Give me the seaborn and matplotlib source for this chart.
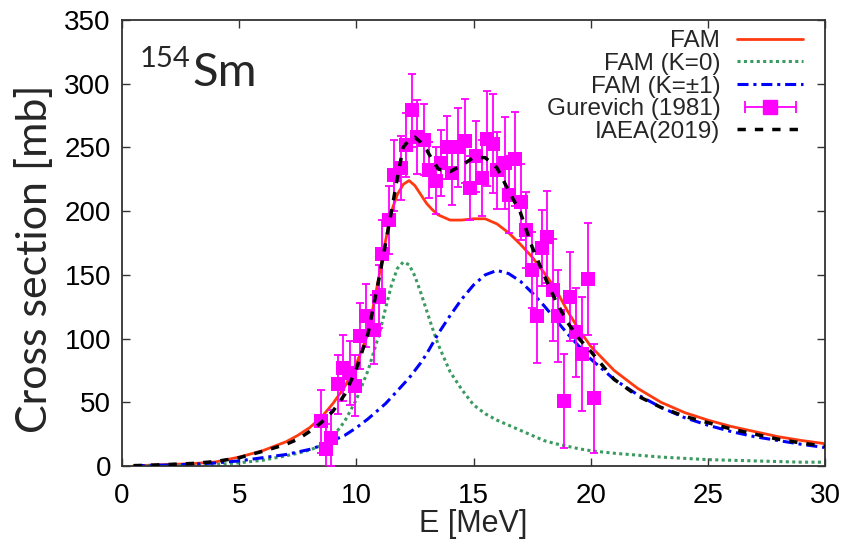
import matplotlib
matplotlib.use("Agg")
import matplotlib.pyplot as plt
import seaborn as sns
from matplotlib.lines import Line2D
from matplotlib.legend_handler import HandlerLine2D, HandlerTuple

# ---------------- data ----------------
energy_grid = [0.5, 1, 2, 3, 4, 5, 6, 7, 7.5, 8, 8.5, 9, 9.5, 10, 10.5, 11, 11.25, 11.5,
               11.75, 12, 12.25, 12.5, 12.75, 13, 13.25, 13.5, 14, 14.5, 15, 15.5, 16, 16.5, 17,
               17.5, 18, 18.5, 19, 19.5, 20, 21, 22, 23, 24, 25, 26, 27, 28, 29, 30]

fam_total = [0.3, 0.5, 1.2, 1.8, 3.2, 7, 12, 19, 24, 30, 38, 49, 62, 80, 104, 152, 177, 200,
             213, 221, 224, 220, 213, 206, 201, 197, 193, 193, 194, 194, 190, 183, 174,
             164, 152, 139, 122, 107, 94, 75, 61, 50, 42, 36, 31, 27, 23, 20, 17.5]

fam_k0 = [0.0, 0.1, 0.3, 0.6, 1.2, 2.5, 4.5, 8, 10, 12.5, 16, 23, 35, 52, 75, 105, 124, 142,
          155, 160, 158, 149, 136, 122, 108, 95, 74, 60, 48, 41, 36, 32, 28,
          24, 20, 17.5, 15.5, 13.5, 12, 10, 8.5, 7, 6, 5, 4.5, 4, 3.5, 3, 3]

fam_k1 = [0.2, 0.4, 0.8, 1.4, 2.4, 4, 6.5, 9, 11, 13, 16, 20, 24, 30, 37, 45, 49, 54,
          59, 64, 69, 75, 81, 88, 96, 104, 118, 131, 142, 150, 153.5, 151, 145,
          136, 126, 115, 104, 94, 84, 68, 56, 46, 38, 32, 27, 23, 20, 17, 14.5]

iaea_2019 = [0.3, 0.5, 1.2, 2, 3.5, 6.5, 11.5, 17, 21, 27, 34, 43, 56, 76, 104, 150, 175, 200,
             226, 250, 256, 258, 254, 248, 240, 233, 231, 236, 242, 242, 234, 216, 199,
             172, 150, 130, 113, 100, 90, 68, 55, 46, 39, 34, 29, 25, 21, 18, 15.5]

gurevich_e = [8.5, 8.7, 8.9, 9.2, 9.43, 9.72, 9.96, 10.17, 10.41, 10.74, 10.95, 11.1,
              11.41, 11.62, 11.92, 12.14, 12.38, 12.59, 12.9, 13.12, 13.38, 13.62,
              13.87, 14.09, 14.33, 14.63, 14.87, 15.09, 15.37, 15.58, 15.84, 16.01,
              16.34, 16.51, 16.77, 17.01, 17.26, 17.5, 17.69, 17.93, 18.15, 18.4,
              18.62, 18.86, 19.12, 19.36, 19.62, 19.9, 20.14]
gurevich_xs = [35, 13, 22, 64, 77, 73, 63, 102, 118, 107, 133, 166,
               193, 228, 234, 252, 279, 258, 256, 232, 224, 238,
               250, 230, 250, 255, 218, 243, 226, 257, 253, 232,
               238, 213, 241, 207, 185, 154, 118, 171, 180, 138,
               118, 51, 133, 105, 88, 147, 53]
gurevich_err = [25, 20, 22, 23, 26, 25, 24, 26, 25, 27, 25, 27,
                27, 28, 25, 25, 29, 29, 28, 22, 26, 26,
                25, 25, 31, 33, 25, 28, 30, 37, 39, 30,
                36, 30, 37, 30, 30, 30, 37, 30, 36, 40,
                36, 37, 35, 35, 45, 44, 43]

x_ticks = [0, 5, 10, 15, 20, 25, 30]
y_ticks = [0, 50, 100, 150, 200, 250, 300, 350]

legend_labels = ["FAM", "FAM (K=0)", "FAM (K=\u00b11)", "Gurevich (1981)", "IAEA(2019)"]

# ---------------- style ----------------
sns.set_theme(style="ticks")
plt.rcParams["font.family"] = ["Liberation Sans", "DejaVu Sans"]

RED = "#ff3a10"
GREEN = "#3a9a60"
BLUE = "#0000ff"
MAGENTA = "#ff00ff"

fig = plt.figure(figsize=(8.46, 5.48), dpi=100)
fig.patch.set_facecolor("white")
ax = fig.add_axes([122 / 846, 1 - 466 / 548, (825 - 122) / 846, (466 - 20) / 548])

sns.lineplot(x=energy_grid, y=fam_total, ax=ax, color=RED, lw=2.0, zorder=2)
sns.lineplot(x=energy_grid, y=fam_k0, ax=ax, color=GREEN, lw=2.2,
             linestyle=(0, (1, 1.1)), zorder=2)
sns.lineplot(x=energy_grid, y=fam_k1, ax=ax, color=BLUE, lw=2.2,
             linestyle=(0, (3.6, 1.6, 1, 1.6)), zorder=2)
ax.errorbar(gurevich_e, gurevich_xs, yerr=gurevich_err, fmt="none",
            ecolor=MAGENTA, elinewidth=1.3, capsize=3, capthick=1.3, zorder=3)
sns.scatterplot(x=gurevich_e, y=gurevich_xs, ax=ax, color=MAGENTA, marker="s",
                s=90, linewidth=0, zorder=4)
sns.lineplot(x=energy_grid, y=iaea_2019, ax=ax, color="black", lw=2.5,
             linestyle=(0, (2.4, 2.6)), zorder=5)

ax.set_xlim(0, 30)
ax.set_ylim(0, 350)
ax.set_xticks(x_ticks)
ax.set_yticks(y_ticks)
ax.set_xticklabels([str(t) for t in x_ticks], fontsize=20)
ax.set_yticklabels([str(t) for t in y_ticks], fontsize=20)
ax.tick_params(direction="in", top=True, right=True, length=6, width=1,
               colors="#333333", labelcolor="black")
ax.tick_params(axis="x", pad=12)
ax.tick_params(axis="y", pad=8)
for sp in ax.spines.values():
    sp.set_color("#333333")
    sp.set_linewidth(1.3)
ax.set_xlabel("")
ax.set_ylabel("")

# legend (gnuplot style: text right-aligned, sample on the right)
h_fam = Line2D([], [], color=RED, lw=2.0)
h_k0 = Line2D([], [], color=GREEN, lw=2.2, linestyle=(0, (1, 1.1)))
h_k1 = Line2D([], [], color=BLUE, lw=2.2, linestyle=(0, (3.6, 1.6, 1, 1.6)))
h_caps = Line2D([], [], color=MAGENTA, lw=1.3, marker="|", markersize=8, markeredgewidth=1.3)
h_sq = Line2D([], [], color=MAGENTA, lw=0, marker="s", markersize=10)
h_iaea = Line2D([], [], color="black", lw=2.5, linestyle=(0, (2.4, 2.6)))
leg = ax.legend([h_fam, h_k0, h_k1, (h_caps, h_sq), h_iaea], legend_labels,
                handler_map={h_caps: HandlerLine2D(numpoints=2),
                             h_sq: HandlerLine2D(numpoints=1),
                             tuple: HandlerTuple(ndivide=1, pad=0)},
                markerfirst=False, frameon=False, fontsize=17.5,
                loc="upper right", bbox_to_anchor=(803 / 846, 1 - 30 / 548),
                bbox_transform=fig.transFigure, borderpad=0, borderaxespad=0,
                handlelength=2.7, handletextpad=0.7, labelspacing=0.03)

# annotations / axis titles
fig.text(140 / 846, 1 - 46 / 548, "154", fontsize=21, family=["Lato", "DejaVu Sans"],
         ha="left", va="top")
fig.text(192 / 846, 1 - 86 / 548, "Sm", fontsize=34, family=["Lato", "DejaVu Sans"],
         ha="left", va="baseline")
fig.text(35 / 846, 1 - 259 / 548, "Cross section [mb]", fontsize=31,
         family=["Lato", "DejaVu Sans"], rotation=90, ha="center", va="center")
fig.text(473 / 846, 1 - 524 / 548, "E [MeV]", fontsize=22, ha="center", va="center")

fig.savefig("out.png", dpi=100, facecolor="white")
